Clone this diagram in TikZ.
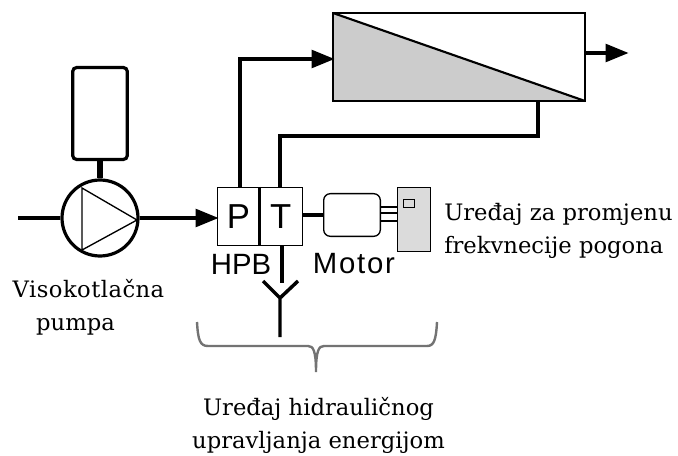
\documentclass[tikz,border=0pt]{standalone}
\usepackage{fontspec}
\setmainfont{DejaVu Serif}
\newfontfamily\lblsans{Liberation Sans}
\usetikzlibrary{arrows.meta}
\definecolor{memb}{gray}{0.8}
\definecolor{drv}{gray}{0.86}
\definecolor{brc}{gray}{0.45}
\tikzset{
  x=0.75pt,y=-0.75pt,
  pipe/.style={line width=2.6pt,line join=miter},
  flow/.style={pipe,-{Triangle[length=17pt,width=14pt,line width=0pt]},shorten >=-1pt},
  thin box/.style={draw,line width=1pt,inner sep=0pt,anchor=north west},
  serif label/.style={font=\fontsize{17}{24.75}\selectfont,inner sep=0pt,anchor=base},
  serif left/.style={serif label,anchor=base west},
  sans label/.style={font=\lblsans\fontsize{22}{24}\selectfont,inner sep=0pt},
}
\begin{document}
\begin{tikzpicture}
\useasboundingbox (0,0) rectangle (678,456);
% tank and pump
\node (tank) [draw,line width=2.4pt,rounded corners=3pt,minimum width=41pt,minimum height=69pt,inner sep=0pt] at (100,113.5) {};
\node (pump) [draw,circle,line width=2.4pt,minimum size=57pt,inner sep=0pt] at (100,218) {};
\coordinate (in) at (18,218);
\coordinate (t1) at (82,188);
\coordinate (t2) at (137,220);
\coordinate (t3) at (82,250);
\draw[line width=1pt] (t1) -- (t2) -- (t3) -- cycle;
\draw[line width=3.8pt] (tank.south) -- (pump.north);
\draw[pipe] (in) -- (pump.west);
% membrane unit
\node (mem) [thin box,minimum width=188pt,minimum height=65pt] at (333,13) {};
\fill[memb] (mem.north west) -- (mem.south east) -- (mem.south west) -- cycle;
\draw[line width=1.2pt] (mem.north west) rectangle (mem.south east);
\draw[line width=1.6pt] (mem.north west) -- (mem.south east);
% pressure block
\node (P) [thin box,minimum width=31pt,minimum height=43.5pt,font=\lblsans\fontsize{26}{26}\selectfont] at (217,187) {P};
\node (T) [thin box,minimum width=33pt,minimum height=43.5pt,font=\lblsans\fontsize{26}{26}\selectfont] at (258,187) {T};
\draw[line width=2pt] (P.north east) -- (P.south east);
\draw[flow] (pump.east) -- (pump.east -| P.west);
\coordinate (a) at (240,59);
\draw[flow] (a |- P.north) -- (a) -- (mem.west |- a);
\coordinate (r1) at (538,136);
\coordinate (r2) at (280,136);
\draw[pipe] (r1 |- mem.south) -- (r1) -- (r2) -- (r2 |- T.north);
\coordinate (outp) at (627,53);
\draw[flow] (mem.east |- outp) -- (outp);
% motor and drive
\node (motor) [draw,line width=1pt,rounded corners=5pt,minimum width=42.5pt,minimum height=32pt,anchor=north west,inner sep=0pt] at (323,193) {};
\node (drive) [thin box,fill=drv,minimum width=24.5pt,minimum height=48pt] at (397,187) {};
\node (led) [draw,line width=1pt,minimum width=8pt,minimum height=6pt,anchor=north west,inner sep=0pt] at (403,199) {};
\draw[line width=3.6pt] (motor.west) -- (motor.west -| T.east);
\draw[line width=1pt] (motor.east |- 0,207) -- (drive.west |- 0,207);
\draw[line width=1pt] (motor.east |- 0,213) -- (drive.west |- 0,213);
\draw[line width=1pt] (motor.east |- 0,221) -- (drive.west |- 0,221);
% discharge
\coordinate (y1) at (282,245);
\coordinate (y2) at (282,283);
\coordinate (yc) at (280,298);
\coordinate (yl) at (263,281);
\coordinate (yr) at (298,281);
\coordinate (yb) at (280,337);
\draw[pipe] (y1) -- (y2);
\draw[pipe] (yl) -- (yc) -- (yr) (yc) -- (yb);
% brace
\coordinate (bl) at (197,322);
\coordinate (br) at (437,322);
\coordinate (bt) at (316,372);
\draw[brc,line width=1.8pt]
  (bl) .. controls (198,340) and (200,346) .. (208,346)
  -- (308,346) .. controls (313,346) and (316,350) .. (bt)
  .. controls (316,350) and (319,346) .. (324,346)
  -- (427,346) .. controls (434,346) and (436,340) .. (br);
% labels
\node (l1) [serif label] at (88.5,297) {\addfontfeature{LetterSpace=2}Visokotlačna};
\node (l1b) [serif label] at (75.5,330) {pumpa};
\node (l2) [serif left] at (444,220) {Uređaj za promjenu};
\node (l2b) [serif left] at (444,253) {frekvnecije pogona};
\node (l3) [serif label] at (318.5,415) {Uređaj hidrauličnog};
\node (l3b) [serif label] at (318.5,448) {upravljanja energijom};
\node (l4) [sans label] at (241,264) {HPB};
\node (l5) [sans label] at (354,264) {\addfontfeature{LetterSpace=6}Motor};
\end{tikzpicture}
\end{document}
